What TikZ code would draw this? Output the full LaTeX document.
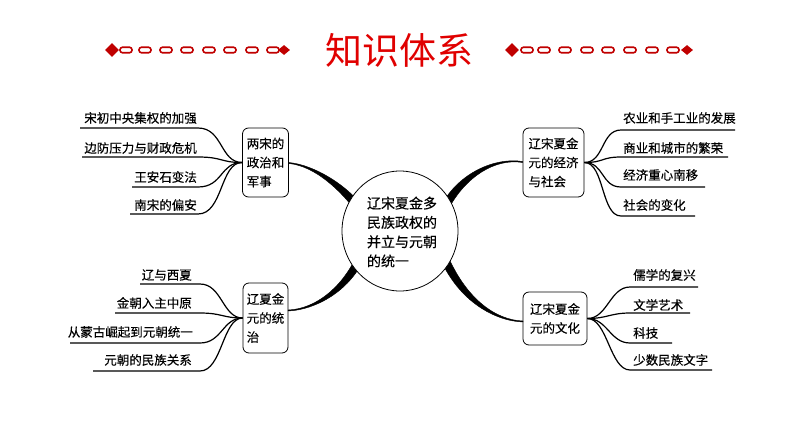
\documentclass[tikz,border=0pt]{standalone}
\usepackage{fontspec}
\setmainfont{Noto Sans CJK SC}[FakeBold=0.3]
\newfontfamily\titlefont{Noto Sans CJK SC}
\usetikzlibrary{shapes.geometric,calc}
\definecolor{tred}{HTML}{E00000}
\definecolor{dred}{HTML}{C00000}
\begin{document}
\begin{tikzpicture}[x=1pt,y=-1pt,
 leaf/.style={inner sep=0pt, font=\fontsize{12.5}{15}\selectfont},
 box/.style={draw, rounded corners=6pt, line width=0.8pt, align=left, inner sep=0pt, font=\fontsize{12.5}{19}\selectfont},
 branch/.style={line width=1.2pt},
 thick branch/.style={fill=black, draw=black, line width=0.4pt},
 link/.style={draw=dred, fill=white, line width=1.6pt, rounded corners=2.5pt, minimum width=12pt, minimum height=5.5pt, inner sep=0pt},
 gem/.style={diamond, fill=dred, inner sep=0pt, minimum width=14pt, minimum height=14pt},
 smallgem/.style={gem, minimum width=12pt, minimum height=10pt}
]
\useasboundingbox (0,0) rectangle (794,447);

% ---- title ----
\node[text=tred, font=\titlefont\fontsize{37}{40}\selectfont, inner sep=0pt] (title) at (399,50) {知识体系};
\foreach \x in {126,145,166,187,209,230,252,273} \node[link] (ll\x) at (\x,50) {};
\node[gem] (dl1) at (112,50) {};
\node[smallgem] (dl2) at (284,50) {};
\foreach \x in {527,544,565,587,608,630,652,673} \node[link] (rl\x) at (\x,50) {};
\node[gem] (dr1) at (512,50) {};
\node[smallgem] (dr2) at (687,50) {};

% ---- boxes ----
\node[box, minimum width=46pt, minimum height=69pt] (tl) at (265.5,162.5) {两宋的\\政治和\\军事};
\node[box, minimum width=61pt, minimum height=69pt] (tr) at (553.5,162.5) {辽宋夏金\\元的经济\\与社会};
\node[box, minimum width=45pt, minimum height=70pt] (bl) at (265.5,318) {辽夏金\\元的统\\治};
\node[box, minimum width=64pt, minimum height=53pt] (br) at (555,318.5) {辽宋夏金\\元的文化};

% ---- tapered connectors from centre ----
\fill[thick branch] (tl.east) .. controls (315,165) and (346.2,185.6) .. (360.2,203.6) -- (353.8,208.4) .. controls (339.8,190.4) and (315,166) .. ($(tl.east)+(0,1)$) -- cycle;
\fill[thick branch] (tr.west) .. controls (495,158) and (465.5,176.9) .. (448.5,208.9) -- (441.5,205.1) .. controls (458.5,173.1) and (495,157) .. ($(tr.west)+(0,-1)$) -- cycle;
\fill[thick branch] (288,311) .. controls (315,310) and (348.6,291.7) .. (363.6,259.7) -- (356.4,256.3) .. controls (341.4,288.3) and (315,309) .. (288,310) -- cycle;
\fill[thick branch] (523,321) .. controls (495,320) and (465.7,298.4) .. (446.7,253.4) -- (439.3,256.6) .. controls (458.3,301.6) and (495,321) .. (523,322) -- cycle;

% ---- centre ----
\node[ellipse, draw, fill=white, line width=0.8pt, minimum width=116pt, minimum height=120pt] (c) at (400,231) {};
\node[align=left, inner sep=0pt, font=\fontsize{14}{19.3}\selectfont] (ctext) at (402,232) {辽宋夏金多\\民族政权的\\并立与元朝\\的统一};

% ---- top-left leaves ----
\node[leaf, anchor=east] (a1) at (197,118) {宋初中央集权的加强};
\node[leaf, anchor=east] (a2) at (197,148) {边防压力与财政危机};
\node[leaf, anchor=east] (a3) at (197,177) {王安石变法};
\node[leaf, anchor=east] (a4) at (197,205) {南宋的偏安};
\coordinate (a1r) at (198,128); \coordinate (a1l) at (80,128);
\coordinate (a2r) at (198,157); \coordinate (a2l) at (82,157);
\coordinate (a3r) at (198,187); \coordinate (a3l) at (132,187);
\coordinate (a4r) at (198,214); \coordinate (a4l) at (130,214);
\foreach \i in {1,2,3,4} \draw[branch] (tl.west) .. controls +(-22,0) and +(25,0) .. (a\i r) -- (a\i l);

% ---- top-right leaves ----
\node[leaf, anchor=west] (b1) at (623,118) {农业和手工业的发展};
\node[leaf, anchor=west] (b2) at (623,148) {商业和城市的繁荣};
\node[leaf, anchor=west] (b3) at (623,175) {经济重心南移};
\node[leaf, anchor=west] (b4) at (623,205) {社会的变化};
\coordinate (b1l) at (621,130); \coordinate (b1r) at (735,130);
\coordinate (b2l) at (621,157); \coordinate (b2r) at (728,157);
\coordinate (b3l) at (621,187); \coordinate (b3r) at (705,187);
\coordinate (b4l) at (621,216); \coordinate (b4r) at (695,216);
\foreach \i in {1,2,3,4} \draw[branch] (tr.east) .. controls +(20,0) and +(-20,0) .. (b\i l) -- (b\i r);

% ---- bottom-left leaves ----
\node[leaf, anchor=east] (d1) at (192,275) {辽与西夏};
\node[leaf, anchor=east] (d2) at (192,303) {金朝入主中原};
\node[leaf, anchor=east] (d3) at (193,332) {从蒙古崛起到元朝统一};
\node[leaf, anchor=east] (d4) at (192,360) {元朝的民族关系};
\coordinate (d1r) at (200,284); \coordinate (d1l) at (140,284);
\coordinate (d2r) at (200,313); \coordinate (d2l) at (115,313);
\coordinate (d3r) at (200,343); \coordinate (d3l) at (70,343);
\coordinate (d4r) at (200,371); \coordinate (d4l) at (93,371);
\foreach \i in {1,2,3,4} \draw[branch] (bl.west) .. controls +(-20,0) and +(22,0) .. (d\i r) -- (d\i l);

% ---- bottom-right leaves ----
\node[leaf, anchor=west] (e1) at (633,275) {儒学的复兴};
\node[leaf, anchor=west] (e2) at (633,305) {文学艺术};
\node[leaf, anchor=west] (e3) at (633,333) {科技};
\node[leaf, anchor=west] (e4) at (633,360) {少数民族文字};
\coordinate (e1l) at (630,287); \coordinate (e1r) at (698,287);
\coordinate (e2l) at (630,313); \coordinate (e2r) at (690,313);
\coordinate (e3l) at (630,343); \coordinate (e3r) at (672,343);
\coordinate (e4l) at (630,370); \coordinate (e4r) at (712,370);
\foreach \i in {1,2,3,4} \draw[branch] (br.east) .. controls +(20,0) and +(-20,0) .. (e\i l) -- (e\i r);
\end{tikzpicture}
\end{document}
